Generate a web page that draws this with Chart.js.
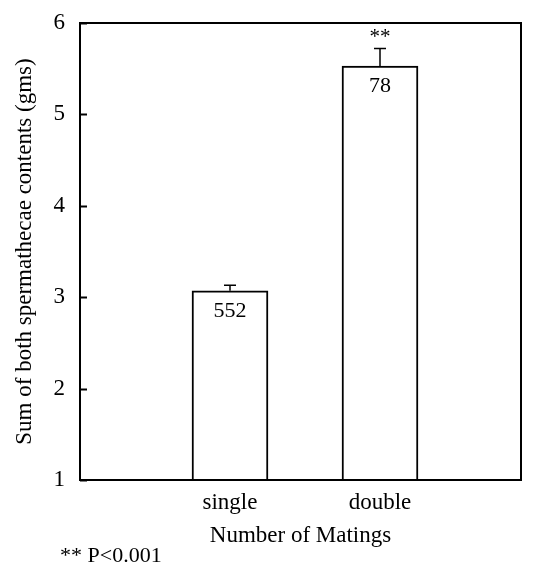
<!DOCTYPE html>
<html>
<head>
<meta charset="utf-8">
<script src="https://cdn.jsdelivr.net/npm/chart.js@4"></script>
<style>
  html, body { margin: 0; padding: 0; background: #fff; }
  #wrap { width: 534px; height: 571px; }
</style>
</head>
<body>
<div id="wrap"><canvas id="matingChart" width="534" height="571"></canvas></div>
<script>
// Données
const categories = ["single", "double"];
const means = [3.07, 5.53];
const errors = [0.06, 0.19];
const sampleSizes = ["552", "78"];
const marks = ["", "**"];
const yTicks = [1, 2, 3, 4, 5, 6];

const serif = "'Liberation Serif', 'Times New Roman', serif";

// Cadre, graduations intérieures, barres d'erreur et étiquettes
const decorations = {
  id: "decorations",
  afterDatasetsDraw(chart) {
    const ctx = chart.ctx;
    const area = chart.chartArea;
    const x = chart.scales.x;
    const y = chart.scales.y;
    ctx.save();
    ctx.strokeStyle = "#000";
    ctx.lineWidth = 2;
    ctx.strokeRect(area.left, area.top, area.right - area.left, area.bottom - area.top);

    yTicks.forEach((t) => {
      const py = Math.round(y.getPixelForValue(t)) + 0.5;
      ctx.beginPath();
      ctx.moveTo(area.left, py);
      ctx.lineTo(area.left + 7, py);
      ctx.stroke();
    });

    ctx.lineWidth = 1.5;
    ctx.fillStyle = "#000";
    ctx.textAlign = "center";
    categories.forEach((c, i) => {
      const px = x.getPixelForValue(i + 1);
      const top = y.getPixelForValue(means[i]);
      const errTop = y.getPixelForValue(means[i] + errors[i]);
      ctx.beginPath();
      ctx.moveTo(px, top);
      ctx.lineTo(px, errTop);
      ctx.moveTo(px - 6, errTop);
      ctx.lineTo(px + 6, errTop);
      ctx.stroke();

      ctx.font = "22px " + serif;
      ctx.textBaseline = "middle";
      ctx.fillText(sampleSizes[i], px, top + 20);
      if (marks[i]) {
        ctx.font = "21px " + serif;
        ctx.fillText(marks[i], px, errTop - 11);
      }
    });

    ctx.font = "22px " + serif;
    ctx.textAlign = "left";
    ctx.textBaseline = "middle";
    ctx.fillText("** P<0.001", 60, 556);
    ctx.restore();
  },
};

const ctx = document.getElementById("matingChart").getContext("2d");
new Chart(ctx, {
  type: "bar",
  data: {
    datasets: [
      {
        data: categories.map((c, i) => ({ x: i + 1, y: means[i] })),
        backgroundColor: "#fff",
        borderColor: "#000",
        borderWidth: 2,
        borderSkipped: "bottom",
        barThickness: 76,
      },
    ],
  },
  options: {
    responsive: false,
    animation: false,
    layout: { padding: { top: 23, right: 13, left: 0, bottom: 0 } },
    plugins: {
      legend: { display: false },
      tooltip: { enabled: false },
    },
    scales: {
      x: {
        type: "linear",
        offset: false,
        min: 0,
        max: 2.94,
        grid: { display: false, offset: false },
        border: { display: false },
        afterBuildTicks: (scale) => {
          scale.ticks = categories.map((c, i) => ({ value: i + 1 }));
        },
        afterFit: (scale) => {
          scale.height = 91;
        },
        ticks: {
          callback: (v) => categories[v - 1] || "",
          color: "#000",
          font: { family: serif, size: 23 },
          padding: 1,
          maxRotation: 0,
        },
        title: {
          display: true,
          text: "Number of Matings",
          color: "#000",
          font: { family: serif, size: 23 },
          padding: { top: 2, bottom: 21 },
        },
      },
      y: {
        min: 1,
        max: 6,
        grid: { display: false },
        border: { display: false },
        afterBuildTicks: (scale) => {
          scale.ticks = yTicks.map((v) => ({ value: v }));
        },
        afterFit: (scale) => {
          scale.width = 80;
        },
        ticks: {
          color: "#000",
          font: { family: serif, size: 23, lineHeight: 0.6 },
          padding: 7,
        },
        title: {
          display: true,
          text: "Sum of both spermathecae contents (gms)",
          color: "#000",
          font: { family: serif, size: 23 },
          padding: { top: 11, bottom: 2 },
        },
      },
    },
  },
  plugins: [decorations],
});
</script>
</body>
</html>
